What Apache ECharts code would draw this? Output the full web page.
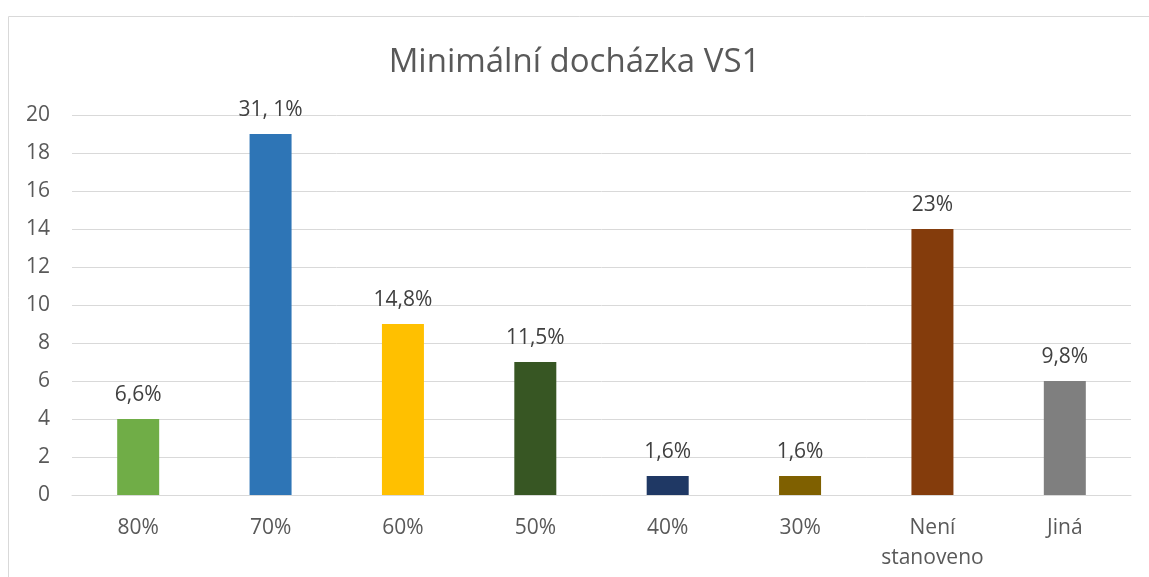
<!DOCTYPE html>
<html lang="cs">
<head>
<meta charset="utf-8">
<title>Minimální docházka VS1</title>
<script src="https://cdn.jsdelivr.net/npm/echarts@6/dist/echarts.min.js"></script>
<style>
html,body{margin:0;padding:0;background:#fff;}
#chart{width:1149px;height:577px;}
</style>
</head>
<body>
<div id="chart"></div>
<script>
var categories = ['80%', '70%', '60%', '50%', '40%', '30%', 'Není\nstanoveno', 'Jiná'];
var values = [4, 19, 9, 7, 1, 1, 14, 6];
var labels = ['6,6%', '31, 1%', '14,8%', '11,5%', '1,6%', '1,6%', '23%', '9,8%'];
var colors = ['#70AD47', '#2E75B6', '#FFC000', '#375623', '#1F3864', '#7F6000', '#843C0C', '#7F7F7F'];
var yTicks = [0, 2, 4, 6, 8, 10, 12, 14, 16, 18, 20];

var font = '"Open Sans", "Noto Sans", sans-serif';
var chart = echarts.init(document.getElementById('chart'));
chart.setOption({
	animation: false,
	graphic: [{
		type: 'rect',
		shape: {x: 8.5, y: 16.5, width: 1200, height: 700},
		style: {fill: 'none', stroke: '#d9d9d9', lineWidth: 1},
		silent: true
	}],
	title: {
		text: 'Minimální docházka VS1',
		left: 'center',
		top: 41,
		textStyle: {fontFamily: font, fontSize: 33, fontWeight: 'normal', color: '#595959'}
	},
	grid: {left: 72, right: 18, top: 115, bottom: 82, containLabel: false},
	xAxis: {
		type: 'category',
		data: categories,
		axisLine: {lineStyle: {color: '#d9d9d9', width: 1}},
		axisTick: {show: false},
		axisLabel: {interval: 0, fontFamily: font, fontSize: 21, color: '#595959', margin: 18, lineHeight: 30}
	},
	yAxis: {
		type: 'value',
		min: yTicks[0],
		max: yTicks[yTicks.length - 1],
		interval: 2,
		axisLine: {show: false},
		axisTick: {show: false},
		splitLine: {lineStyle: {color: '#d9d9d9', width: 1}},
		axisLabel: {fontFamily: font, fontSize: 21, color: '#595959', margin: 22}
	},
	series: [{
		type: 'bar',
		barWidth: 42,
		data: values.map(function (v, i) {
			return {value: v, itemStyle: {color: colors[i]}};
		}),
		label: {
			show: true,
			position: 'top',
			distance: 13,
			fontFamily: font,
			fontSize: 21,
			color: '#404040',
			formatter: function (p) { return labels[p.dataIndex]; }
		}
	}]
});
</script>
</body>
</html>
